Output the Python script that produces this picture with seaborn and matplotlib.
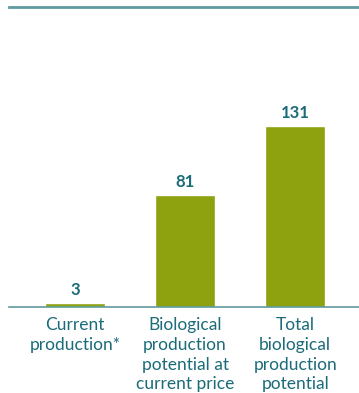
import matplotlib
matplotlib.use("Agg")
import matplotlib.pyplot as plt
import seaborn as sns
import pandas as pd

categories = ["Current\nproduction*", "Biological\nproduction\npotential at\ncurrent price", "Total\nbiological\nproduction\npotential"]
values = [3, 81, 131]

df = pd.DataFrame({"cat": categories, "val": values})

sns.set_style("white")
plt.rcParams['font.family'] = ['Lato', 'DejaVu Sans']

BAR = "#8ea10f"
TEXT = "#1b6b78"
LINE = "#5e9a9e"

fig = plt.figure(figsize=(3.59, 3.93), dpi=100)
ax = fig.add_axes([9/359, (393-307)/393, 350/359, 300/393])
sns.barplot(data=df, x="cat", y="val", color=BAR, width=0.545, ax=ax, saturation=1)
ax.set_xlim(-0.6, 2.58)
ax.set_ylim(0, 217)
for s in ["left", "right"]:
    ax.spines[s].set_visible(False)
ax.spines["top"].set_color(LINE)
ax.spines["top"].set_linewidth(2)
ax.spines["bottom"].set_color(LINE)
ax.spines["bottom"].set_linewidth(1.2)
ax.set_yticks([])
ax.set_xlabel("")
ax.set_ylabel("")
ax.tick_params(axis="x", length=0, pad=7, labelsize=12.5, labelcolor=TEXT)
for lbl in ax.get_xticklabels():
    lbl.set_linespacing(1.3)
for i, v in enumerate(values):
    ax.annotate(str(v), (i, v), xytext=(0, 3.5), textcoords="offset points",
                ha="center", va="bottom", fontsize=12, fontweight="bold", color=TEXT)
fig.savefig("out.png", dpi=100)
